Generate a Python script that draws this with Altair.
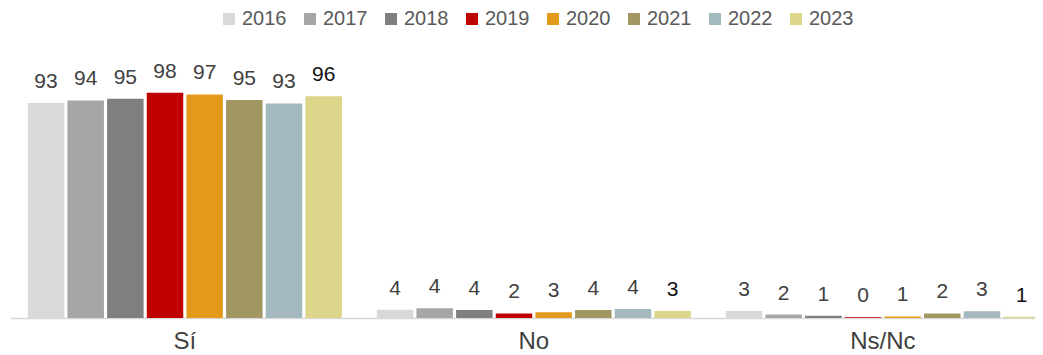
import altair as alt
import pandas as pd

categories = ["Sí", "No", "Ns/Nc"]
years = ["2016", "2017", "2018", "2019", "2020", "2021", "2022", "2023"]
colors = ["#d9d9d9", "#a6a6a6", "#7f7f7f", "#c00000", "#e39a1b", "#a29662", "#a4b8bf", "#ddd68a"]

si_values = [93.3, 94.4, 95.2, 97.7, 97.0, 94.6, 93.1, 96.2]
no_values = [3.6, 4.2, 3.5, 2.0, 2.5, 3.5, 3.9, 3.0]
nsnc_values = [3.0, 1.5, 1.0, 0.3, 0.7, 2.0, 2.9, 0.5]

si_labels = ["93", "94", "95", "98", "97", "95", "93", "96"]
no_labels = ["4", "4", "4", "2", "3", "4", "4", "3"]
nsnc_labels = ["3", "2", "1", "0", "1", "2", "3", "1"]

rows = []
for cat, vals, labs in [("Sí", si_values, si_labels), ("No", no_values, no_labels), ("Ns/Nc", nsnc_values, nsnc_labels)]:
    for y, v, l in zip(years, vals, labs):
        rows.append({"category": cat, "year": y, "value": v, "label": l})
df = pd.DataFrame(rows)

FONT = "Liberation Sans"

base = alt.Chart(df).encode(
    x=alt.X("category:N", sort=categories,
            scale=alt.Scale(paddingInner=0.1, paddingOuter=0.03, align=0.85),
            axis=alt.Axis(title=None, labelAngle=0, ticks=False, domainColor="#d9d9d9",
                          domainWidth=1.5, labelFontSize=24, labelColor="#404040",
                          labelFont=FONT, labelPadding=11)),
    xOffset=alt.XOffset("year:N", sort=years, scale=alt.Scale(paddingInner=0.08)),
    y=alt.Y("value:Q", scale=alt.Scale(domain=[0, 115]), axis=None),
)

bars = base.mark_bar().encode(
    color=alt.Color("year:N", sort=years,
                    scale=alt.Scale(domain=years, range=colors),
                    legend=alt.Legend(title=None, orient="none", direction="horizontal",
                                      legendX=209, legendY=-44, symbolType="square",
                                      symbolSize=144, symbolStrokeWidth=0,
                                      labelFontSize=20, labelColor="#595959", labelFont=FONT,
                                      labelOffset=3, columnPadding=13, padding=0)),
)

text = base.mark_text(dy=-15, baseline="alphabetic", fontSize=21, font=FONT).encode(
    text="label:N",
    color=alt.condition(alt.datum.year == "2023", alt.value("#111111"), alt.value("#404040")),
)

chart = alt.layer(bars, text).properties(
    width=1033, height=265,
    padding={"left": 2, "top": 45, "right": -8, "bottom": 37},
    autosize=alt.AutoSizeParams(type="none"),
).configure_view(stroke=None)

chart.save("out.html", embed_options={"renderer": "svg", "actions": False})
